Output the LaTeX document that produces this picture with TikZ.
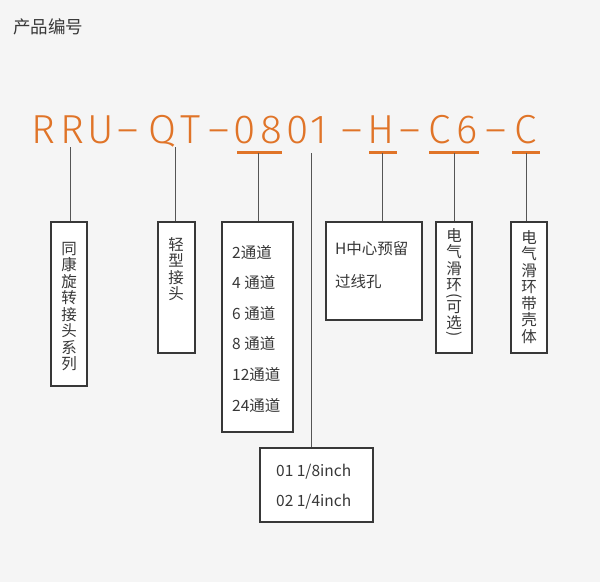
\documentclass[tikz,border=0pt]{standalone}
\usepackage{fontspec}
\usepackage{xcolor}
\usepackage{graphicx}
\usetikzlibrary{positioning,calc}
\setmainfont{Noto Sans CJK SC}
\newfontfamily\codefont{Fira Sans Light}
\definecolor{pnorange}{HTML}{E07428}
\definecolor{pntext}{HTML}{383838}
\definecolor{pnline}{HTML}{555555}
\definecolor{pnbg}{HTML}{F5F5F5}

\begin{document}
\begin{tikzpicture}[x=1pt,y=-1pt,
  code/.style={anchor=base,inner sep=0pt,text=pnorange,font=\codefont\fontsize{40.5}{40}\selectfont},
  uline/.style={pnorange,line width=2.2pt},
  stem/.style={pnline,line width=0.9pt},
  box/.style={rectangle,draw=pntext,line width=1.2pt,fill=white,inner sep=0pt},
  vtext/.style={anchor=north,inner sep=0pt,align=center,text=pntext,font=\fontsize{15.5}{16.5}\selectfont},
  paren/.style={inner sep=0pt,text=pntext,font=\fontsize{15.5}{16.5}\selectfont},
  row/.style={anchor=west,inner sep=0pt,text=pntext,font=\fontsize{15.5}{18}\selectfont}]
  \fill[pnbg] (0,0) rectangle (600,582);
  \useasboundingbox (0,0) rectangle (600,582);
  \node[anchor=west,inner sep=0pt,text=pntext,font=\fontsize{17.5}{20}\selectfont] (title) at (13,26.5) {产品编号};
  % product code, one glyph at a time
  \foreach \ch/\cx [count=\i] in {R/43,R/72,U/100.5,–/128.5,Q/162.5,T/191,–/219,0/245,8/271,0/297.5,1/319,–/352,H/381.5,–/410,C/440,6/467.5,–/496,C/525.5}
    \node[code] (c\i) at (\cx,143) {\ch};
  \coordinate (u1a) at (237,152.5); \coordinate (u1b) at (282,152.5);
  \coordinate (u2a) at (369,152.5); \coordinate (u2b) at (397,152.5);
  \coordinate (u3a) at (429,152.5); \coordinate (u3b) at (479,152.5);
  \coordinate (u4a) at (512,152.5); \coordinate (u4b) at (540,152.5);
  \draw[uline] (u1a) -- (u1b);
  \draw[uline] (u2a) -- (u2b);
  \draw[uline] (u3a) -- (u3b);
  \draw[uline] (u4a) -- (u4b);
  % boxes
  \node[box,minimum width=36pt,minimum height=164pt] (series) at (69,304) {};
  \node[box,minimum width=37pt,minimum height=131pt] (light)  at (176.5,287.5) {};
  \node[box,minimum width=71pt,minimum height=210pt] (chan)   at (257.5,327) {};
  \node[box,minimum width=96pt,minimum height=98pt]  (hole)   at (374,271) {};
  \node[box,minimum width=36pt,minimum height=131pt] (slip)   at (454,287.5) {};
  \node[box,minimum width=36pt,minimum height=131pt] (shell)  at (529,287.5) {};
  \node[box,minimum width=113pt,minimum height=74pt] (size)   at (316.5,485) {};
  % stems
  \coordinate (t1) at (70,147);
  \coordinate (t2) at (175,147);
  \coordinate (t3) at (258,153);
  \coordinate (t4) at (311,153);
  \coordinate (t5) at (382,153);
  \coordinate (t6) at (454,153);
  \coordinate (t7) at (526,153);
  \draw[stem] (t1) -- (t1 |- series.north);
  \draw[stem] (t2) -- (t2 |- light.north);
  \draw[stem] (t3) -- (t3 |- chan.north);
  \draw[stem] (t4) -- (t4 |- size.north);
  \draw[stem] (t5) -- (t5 |- hole.north);
  \draw[stem] (t6) -- (t6 |- slip.north);
  \draw[stem] (t7) -- (t7 |- shell.north);
  % texts
  \node[vtext] (seriest) at (69,242) {同\\康\\旋\\转\\接\\头\\系\\列};
  \node[vtext] (lightt) at (176,237) {轻\\型\\接\\头};
  \node[vtext] (slipt) at (454,228) {电\\气\\滑\\环};
  \node[paren] (slipl) at (454,296.5) {\rotatebox{-90}{(}};
  \node[vtext] (slipo) at (454,300) {可\\选};
  \node[paren] (slipr) at (454,334.5) {\rotatebox{-90}{)}};
  \node[vtext] (shellt) at (529,230) {电\\气\\滑\\环\\带\\壳\\体};
  \foreach \t/\ry [count=\i] in {2通道/252,4 通道/282,6 通道/313,8 通道/343,12通道/374,24通道/405}
    \node[row] (ch\i) at (232,\ry) {\t};
  \node[row] (hole1) at (335,249) {H中心预留};
  \node[row] (hole2) at (335,282) {过线孔};
  \node[row] (size1) at (276,472) {01 1/8inch};
  \node[row] (size2) at (276,502) {02 1/4inch};
\end{tikzpicture}
\end{document}
